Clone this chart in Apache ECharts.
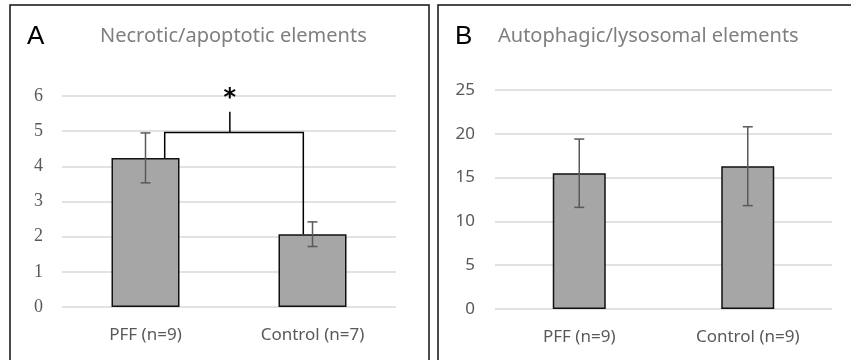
<!DOCTYPE html>
<html>
<head>
<meta charset="utf-8">
<script src="https://cdn.jsdelivr.net/npm/echarts@6/dist/echarts.min.js"></script>
<style>
  html, body { margin: 0; padding: 0; background: #fff; }
  #chart { width: 851px; height: 360px; }
</style>
</head>
<body>
<div id="chart"></div>
<script>
// panel A: necrotic/apoptotic
const catsA = ['PFF (n=9)', 'Control (n=7)']
const meanA = [4.24, 2.07]
const errA = [0.71, 0.35]
const ticksA = [0, 1, 2, 3, 4, 5, 6]
// significance bracket: height of bar, height of top tick
const sigA = { level: 4.96, tick: 5.55, label: '*' }

// panel B: autophagic/lysosomal
const catsB = ['PFF (n=9)', 'Control (n=9)']
const meanB = [15.5, 16.3]
const errB = [3.9, 4.5]
const ticksB = [0, 5, 10, 15, 20, 25]

const grey = '#595959'
const barFill = '#a6a6a6'

const chart = echarts.init(document.getElementById('chart'))

const errorRender = (capHalf) => (params, api) => {
  const x = api.value(0)
  const hi = api.coord([x, api.value(1) + api.value(2)])
  const lo = api.coord([x, api.value(1) - api.value(2)])
  const style = { stroke: grey, lineWidth: 1.5 }
  return {
    type: 'group',
    children: [
      { type: 'line', shape: { x1: hi[0], y1: hi[1], x2: lo[0], y2: lo[1] }, style },
      { type: 'line', shape: { x1: hi[0] - capHalf, y1: hi[1], x2: hi[0] + capHalf, y2: hi[1] }, style },
      { type: 'line', shape: { x1: lo[0] - capHalf, y1: lo[1], x2: lo[0] + capHalf, y2: lo[1] }, style }
    ]
  }
}

const bracketRender = (params, api) => {
  const band = api.size([1, 0])[0]
  const l = api.coord([0, meanA[0]])
  const r = api.coord([1, meanA[1]])
  const lvl = api.coord([0, api.value(0)])[1]
  const top = api.coord([0, api.value(1)])[1]
  const xl = l[0] + band * 0.115
  const xr = r[0] - band * 0.055
  const xm = xl + (xr - xl) * 0.47
  const style = { stroke: '#000', lineWidth: 1.5, fill: null }
  return {
    type: 'group',
    children: [
      { type: 'polyline', shape: { points: [[xl, l[1]], [xl, lvl], [xr, lvl], [xr, r[1]]] }, style },
      { type: 'line', shape: { x1: xm, y1: lvl, x2: xm, y2: top }, style },
      { type: 'text', style: { text: sigA.label, x: xm, y: top - 1, align: 'center', verticalAlign: 'bottom',
          fontSize: 24, fontWeight: 'bold', fontFamily: 'DejaVu Sans', fill: '#000' } }
    ]
  }
}

const xAxisBase = (cats, idx) => ({
  type: 'category', gridIndex: idx, data: cats,
  axisLine: { show: false }, axisTick: { show: false },
  axisLabel: { color: grey, fontSize: 17, fontFamily: 'Noto Sans', margin: 20 }
})

const option = {
  animation: false,
  title: [
    { text: 'A', left: 27, top: 24, padding: 0, textStyle: { fontSize: 26, fontWeight: 'normal', color: '#000', fontFamily: 'Liberation Sans' } },
    { text: 'Necrotic/apoptotic elements', left: 100, top: 26, padding: 0, textStyle: { fontSize: 20, fontWeight: 'normal', color: '#7f7f7f', fontFamily: 'Noto Sans' } },
    { text: 'B', left: 455, top: 24, padding: 0, textStyle: { fontSize: 26, fontWeight: 'normal', color: '#000', fontFamily: 'Liberation Sans' } },
    { text: 'Autophagic/lysosomal elements', left: 498, top: 26, padding: 0, textStyle: { fontSize: 20, fontWeight: 'normal', color: '#7f7f7f', fontFamily: 'Noto Sans' } }
  ],
  graphic: [
    { type: 'rect', shape: { x: 10, y: 5, width: 419, height: 400 }, style: { fill: null, stroke: '#111', lineWidth: 1.5 } },
    { type: 'rect', shape: { x: 438, y: 5, width: 450, height: 400 }, style: { fill: null, stroke: '#111', lineWidth: 1.5 } }
  ],
  grid: [
    { left: 62, right: 455, top: 96, bottom: 53 },
    { left: 495, right: 19, top: 90, bottom: 51 }
  ],
  xAxis: [xAxisBase(catsA, 0), xAxisBase(catsB, 1)],
  yAxis: [
    {
      type: 'value', gridIndex: 0, min: ticksA[0], max: ticksA[ticksA.length - 1], interval: ticksA[1] - ticksA[0],
      axisLine: { show: false }, axisTick: { show: false },
      splitLine: { lineStyle: { color: '#d9d9d9', width: 1.5 } },
      axisLabel: { color: grey, fontSize: 18, fontFamily: 'Liberation Serif', margin: 19 }
    },
    {
      type: 'value', gridIndex: 1, min: ticksB[0], max: ticksB[ticksB.length - 1], interval: ticksB[1] - ticksB[0],
      axisLine: { show: false }, axisTick: { show: false },
      splitLine: { lineStyle: { color: '#d9d9d9', width: 1.5 } },
      axisLabel: { color: grey, fontSize: 17, fontFamily: 'Noto Sans', margin: 20 }
    }
  ],
  series: [
    {
      type: 'bar', xAxisIndex: 0, yAxisIndex: 0, data: meanA, barWidth: 68,
      itemStyle: { color: barFill, borderColor: '#111', borderWidth: 1.5 }
    },
    {
      type: 'custom', xAxisIndex: 0, yAxisIndex: 0, renderItem: errorRender(5), z: 3,
      data: meanA.map((m, i) => [i, m, errA[i]])
    },
    {
      type: 'custom', xAxisIndex: 0, yAxisIndex: 0, renderItem: bracketRender, z: 4,
      data: [[sigA.level, sigA.tick]]
    },
    {
      type: 'bar', xAxisIndex: 1, yAxisIndex: 1, data: meanB, barWidth: 53,
      itemStyle: { color: barFill, borderColor: '#111', borderWidth: 1.5 }
    },
    {
      type: 'custom', xAxisIndex: 1, yAxisIndex: 1, renderItem: errorRender(5), z: 3,
      data: meanB.map((m, i) => [i, m, errB[i]])
    }
  ]
}

chart.setOption(option)
</script>
</body>
</html>
